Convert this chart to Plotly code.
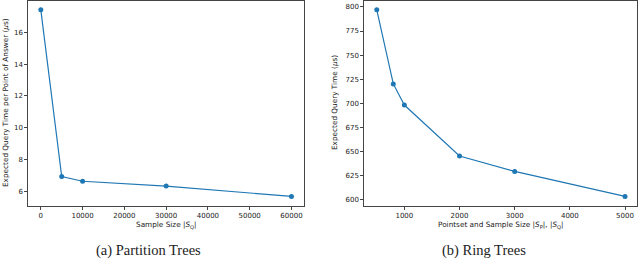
import plotly.graph_objects as go

# Data
pt_sizes = [0, 5000, 10000, 30000, 60000]
pt_times = [17.4, 6.95, 6.65, 6.35, 5.7]
rt_sizes = [500, 800, 1000, 2000, 3000, 5000]
rt_times = [797, 720, 698, 645, 629, 603]

pt_xticks = [0, 10000, 20000, 30000, 40000, 50000, 60000]
pt_yticks = [6, 8, 10, 12, 14, 16]
rt_xticks = [1000, 2000, 3000, 4000, 5000]
rt_yticks = [600, 625, 650, 675, 700, 725, 750, 775, 800]

captions = ["(a) Partition Trees", "(b) Ring Trees"]


def padded(vals, frac=0.05):
    lo, hi = min(vals), max(vals)
    d = (hi - lo) * frac
    return [lo - d, hi + d]


BLUE = "#1f77b4"
AX = "#444444"
TICKFONT = dict(family="DejaVu Sans", size=7, color="#222222")

fig = go.Figure()
fig.add_trace(go.Scatter(x=pt_sizes, y=pt_times, mode="lines+markers",
                         line=dict(color=BLUE, width=1.2),
                         marker=dict(color=BLUE, size=5),
                         xaxis="x", yaxis="y", showlegend=False))
fig.add_trace(go.Scatter(x=rt_sizes, y=rt_times, mode="lines+markers",
                         line=dict(color=BLUE, width=1.2),
                         marker=dict(color=BLUE, size=5),
                         xaxis="x2", yaxis="y2", showlegend=False))

axcommon = dict(showline=True, linecolor=AX, linewidth=1, mirror=True,
                ticks="outside", ticklen=3, tickwidth=1, tickcolor=AX,
                showgrid=False, zeroline=False, tickfont=TICKFONT)

ydom = [0.238, 0.998]
fig.update_layout(
    width=640, height=270,
    margin=dict(l=0, r=0, t=0, b=0),
    paper_bgcolor="white", plot_bgcolor="white",
    xaxis=dict(domain=[0.0442, 0.475], range=padded(pt_sizes),
               tickvals=pt_xticks, ticktext=[str(v) for v in pt_xticks],
               anchor="y", **axcommon),
    yaxis=dict(domain=ydom, range=padded(pt_times),
               tickvals=pt_yticks, ticktext=[str(v) for v in pt_yticks],
               anchor="x", **axcommon),
    xaxis2=dict(domain=[0.5693, 0.996], range=padded(rt_sizes),
                tickvals=rt_xticks, ticktext=[str(v) for v in rt_xticks],
                anchor="y2", **axcommon),
    yaxis2=dict(domain=ydom, range=padded(rt_times),
                tickvals=rt_yticks, ticktext=[str(v) for v in rt_yticks],
                anchor="x2", **axcommon),
)

TITLEFONT = dict(family="DejaVu Sans", size=7.3, color="#222222")
ann = [
    dict(text="Sample Size |<i>S</i><sub>Q</sub>|", x=166 / 640, y=1 - 225 / 270,
         textangle=0),
    dict(text="Pointset and Sample Size |<i>S</i><sub>P</sub>|, |<i>S</i><sub>Q</sub>|",
         x=501 / 640, y=1 - 225 / 270, textangle=0),
    dict(text="Expected Query Time per Point of Answer (<i>μ</i>s)", x=5 / 640,
         y=1 - 103 / 270, textangle=-90),
    dict(text="Expected Query Time (<i>μ</i>s)", x=334 / 640,
         y=1 - 103 / 270, textangle=-90),
]
for a in ann:
    fig.add_annotation(xref="paper", yref="paper", showarrow=False,
                       xanchor="center", yanchor="middle", font=TITLEFONT, **a)

CAPFONT = dict(family="Liberation Serif", size=14.5, color="#222222")
for txt, cx in zip(captions, [148, 484]):
    fig.add_annotation(text=txt, xref="paper", yref="paper", x=cx / 640,
                       y=1 - 250 / 270, showarrow=False, xanchor="center",
                       yanchor="middle", font=CAPFONT)

fig.write_html("out.html", config={"displayModeBar": False},
               post_script="document.body.style.margin='0';document.body.style.padding='0';")
